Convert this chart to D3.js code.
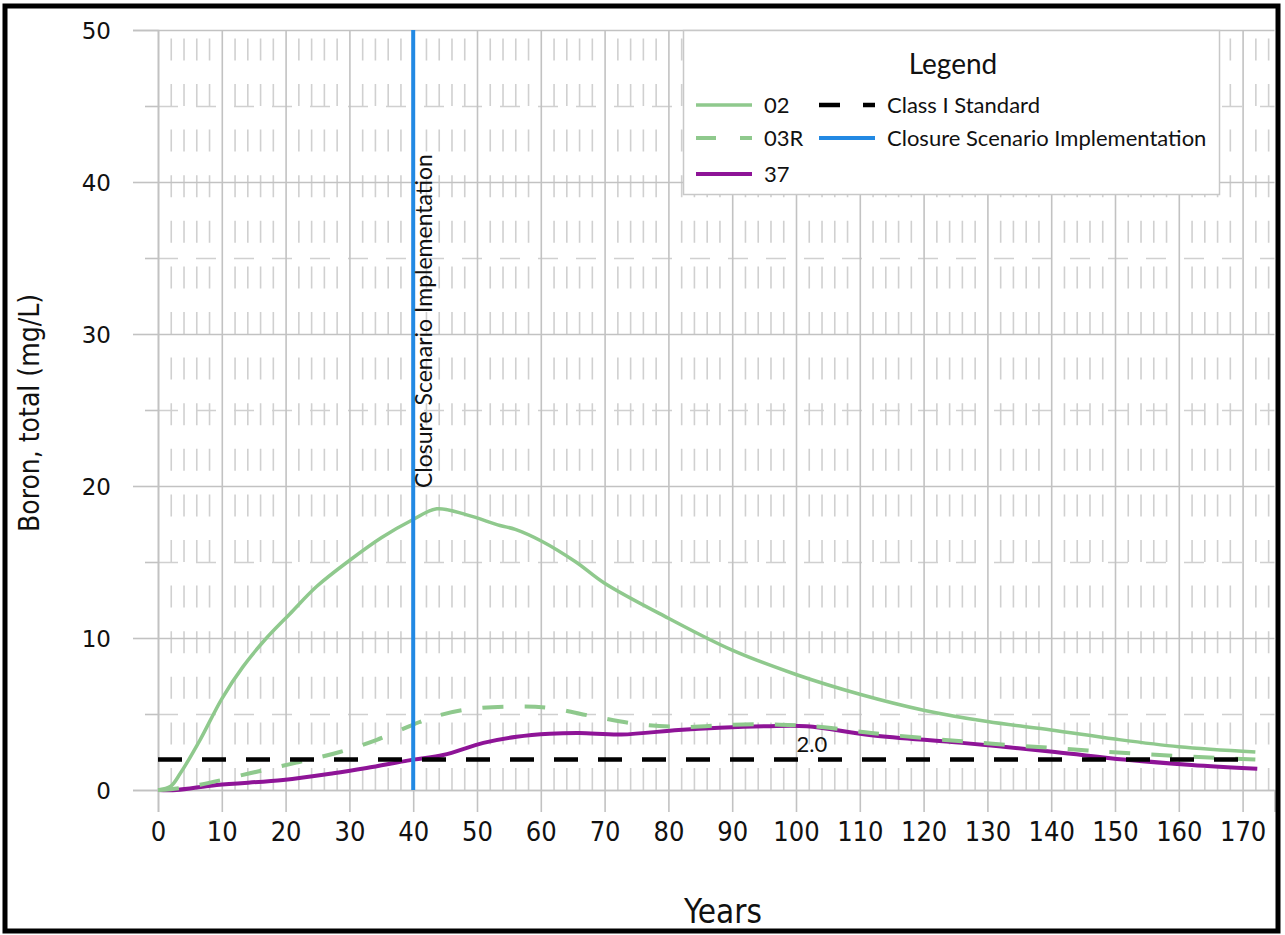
<!DOCTYPE html>
<html>
<head>
<meta charset="utf-8">
<script src="https://cdn.jsdelivr.net/npm/d3@7"></script>
<style>
  html, body { margin: 0; padding: 0; background: #fff; }
  svg { display: block; }
</style>
</head>
<body>
<svg id="chart" width="1285" height="935"></svg>
<script>
// Modelled total boron concentration at three wells over time
const years02  = [0, 2, 3.5, 6.6, 10, 13.3, 16.8, 20.7, 24.9, 30, 35, 40, 43.7, 48.4, 53.6, 56, 60, 65.5, 70, 80, 90, 100, 110, 120, 130, 140, 150, 160, 172];
const boron02  = [0, 0.25, 1.1, 3.3, 6.0, 8.1, 9.9, 11.6, 13.4, 15.1, 16.6, 17.8, 18.5, 18.1, 17.4, 17.15, 16.4, 15.0, 13.6, 11.3, 9.2, 7.6, 6.3, 5.25, 4.5, 3.95, 3.35, 2.85, 2.5];

const years03R = [0, 2, 6.6, 14.4, 21.7, 28.5, 34.3, 40, 43.1, 48.4, 56, 61.4, 68.7, 75.9, 83, 90, 97.5, 104, 111.8, 126, 140.6, 155, 172];
const boron03R = [0, 0.05, 0.35, 1.1, 1.8, 2.5, 3.3, 4.3, 4.8, 5.3, 5.5, 5.4, 4.8, 4.3, 4.15, 4.3, 4.3, 4.15, 3.75, 3.2, 2.75, 2.35, 2.0];

const years37  = [0, 2.9, 9.2, 19.6, 27.5, 32.7, 40, 44.7, 51, 56.2, 61.4, 66, 72.6, 81.6, 88, 95.3, 101.7, 111.8, 126, 140.6, 151.4, 162, 172.3];
const boron37  = [0, 0, 0.33, 0.66, 1.1, 1.45, 2.0, 2.3, 3.1, 3.5, 3.7, 3.75, 3.65, 3.95, 4.1, 4.2, 4.2, 3.6, 3.1, 2.5, 2.0, 1.65, 1.4];

const classIStandard = 2.0;      // mg/L
const closureYear = 40;          // year the closure scenario starts

const xTicks = d3.range(0, 171, 10);
const yTicks = [0, 10, 20, 30, 40, 50];
const yMinorTicks = [5, 15, 25, 35, 45];
const xMinorTicks = d3.range(2, 175, 2).filter(v => v % 10 !== 0);

const seriesNames = ["02", "03R", "37", "Class I Standard", "Closure Scenario Implementation"];

const colors = {
  s02: "#8fc98d",
  s03R: "#8fc98d",
  s37: "#8e1497",
  std: "#000000",
  closure: "#2289e3",
  gridMajor: "#c2c2c2",
  gridMinor: "#d0d0d0",
  text: "#111111"
};

const narrowFont = "'Liberation Sans Narrow', 'DejaVu Sans Condensed', sans-serif";
const legendFont = "Lato, 'Open Sans', sans-serif";

const svg = d3.select("#chart");
const x = d3.scaleLinear().domain([0, 175]).range([158, 1274.5]);
const y = d3.scaleLinear().domain([0, 50]).range([790, 30]);

const gGrid = svg.append("g");

// minor vertical grid (dashed)
gGrid.append("g")
  .attr("transform", `translate(0,${y(0)})`)
  .call(d3.axisBottom(x).tickValues(xMinorTicks).tickSize(-(y(0) - y(50))).tickFormat(""))
  .call(g => g.select(".domain").remove())
  .call(g => g.selectAll("line")
    .attr("stroke", colors.gridMinor).attr("stroke-width", 1.6)
    .attr("stroke-dasharray", "22,23.6"));

// minor horizontal grid (dashed)
gGrid.append("g")
  .attr("transform", `translate(${x(0)},0)`)
  .call(d3.axisLeft(y).tickValues(yMinorTicks).tickSize(-(x(175) - x(0))).tickFormat(""))
  .call(g => g.select(".domain").remove())
  .call(g => g.selectAll("line")
    .attr("stroke", colors.gridMinor).attr("stroke-width", 1.6)
    .attr("stroke-dasharray", "20,18"));

// major vertical grid
gGrid.append("g")
  .attr("transform", `translate(0,${y(0)})`)
  .call(d3.axisBottom(x).tickValues(xTicks).tickSize(-(y(0) - y(50))).tickFormat(""))
  .call(g => g.select(".domain").remove())
  .call(g => g.selectAll("line").attr("stroke", colors.gridMajor).attr("stroke-width", 1.6));

// major horizontal grid
gGrid.append("g")
  .attr("transform", `translate(${x(0)},0)`)
  .call(d3.axisLeft(y).tickValues(yTicks).tickSize(-(x(175) - x(0))).tickFormat(""))
  .call(g => g.select(".domain").remove())
  .call(g => g.selectAll("line").attr("stroke", colors.gridMajor).attr("stroke-width", 1.6));

// y axis: outer ticks and labels
svg.append("g")
  .attr("transform", `translate(${x(0)},0)`)
  .call(d3.axisLeft(y).tickValues(yTicks).tickSize(25).tickPadding(22))
  .call(g => g.select(".domain").attr("stroke", colors.gridMajor).attr("stroke-width", 1.6))
  .call(g => g.selectAll(".tick line").attr("stroke", colors.gridMajor).attr("stroke-width", 1.6))
  .call(g => g.selectAll(".tick text")
    .attr("font-family", "'DejaVu Sans', Verdana, sans-serif")
    .attr("font-size", 23).attr("fill", colors.text).attr("dy", "0.36em"));

svg.append("g")
  .attr("transform", `translate(${x(0)},0)`)
  .call(d3.axisLeft(y).tickValues(yMinorTicks).tickSize(13).tickFormat(""))
  .call(g => g.select(".domain").remove())
  .call(g => g.selectAll(".tick line").attr("stroke", colors.gridMajor).attr("stroke-width", 1.6));

// x axis: ticks below and labels
svg.append("g")
  .attr("transform", `translate(0,${y(0)})`)
  .call(d3.axisBottom(x).tickValues(xTicks).tickSize(22).tickPadding(10))
  .call(g => g.select(".domain").attr("stroke", colors.gridMajor).attr("stroke-width", 1.6))
  .call(g => g.selectAll(".tick line").attr("stroke", colors.gridMajor).attr("stroke-width", 1.6))
  .call(g => g.selectAll(".tick text")
    .attr("font-family", narrowFont)
    .attr("font-size", 27).attr("fill", colors.text));

// axis titles
svg.append("text")
  .attr("transform", `translate(39,${(y(0) + y(50)) / 2 + 3}) rotate(-90)`)
  .attr("text-anchor", "middle")
  .attr("font-family", narrowFont)
  .attr("font-size", 28).attr("fill", colors.text)
  .text("Boron, total (mg/L)");

svg.append("text")
  .attr("x", 723).attr("y", 923)
  .attr("text-anchor", "middle")
  .attr("font-family", narrowFont)
  .attr("font-size", 33).attr("fill", colors.text)
  .text("Years");

// data lines
const line = d3.line().x(d => x(d[0])).y(d => y(d[1])).curve(d3.curveCatmullRom.alpha(0.5));
const zip = (xs, ys) => xs.map((v, i) => [v, ys[i]]);

svg.append("path")
  .datum(zip(years37, boron37))
  .attr("d", line).attr("fill", "none")
  .attr("stroke", colors.s37).attr("stroke-width", 4);

svg.append("path")
  .datum(zip(years03R, boron03R))
  .attr("d", line).attr("fill", "none")
  .attr("stroke", colors.s03R).attr("stroke-width", 4)
  .attr("stroke-dasharray", "21,21");

svg.append("path")
  .datum(zip(years02, boron02))
  .attr("d", line).attr("fill", "none")
  .attr("stroke", colors.s02).attr("stroke-width", 3.5);

// Class I standard
svg.append("line")
  .attr("x1", x(0)).attr("x2", x(172.3))
  .attr("y1", y(classIStandard)).attr("y2", y(classIStandard))
  .attr("stroke", colors.std).attr("stroke-width", 4.5)
  .attr("stroke-dasharray", "24,20");

svg.append("text")
  .attr("x", x(102.5)).attr("y", y(classIStandard) - 8)
  .attr("text-anchor", "middle")
  .attr("font-family", legendFont)
  .attr("font-size", 22).attr("fill", colors.text)
  .text(classIStandard.toFixed(1));

// closure scenario marker
svg.append("line")
  .attr("x1", x(closureYear)).attr("x2", x(closureYear))
  .attr("y1", y(0)).attr("y2", y(50))
  .attr("stroke", colors.closure).attr("stroke-width", 4);

svg.append("text")
  .attr("transform", `translate(${x(closureYear) + 19},${y(20) + 2}) rotate(-90)`)
  .attr("text-anchor", "start")
  .attr("font-family", legendFont)
  .attr("font-size", 23).attr("fill", colors.text)
  .text(seriesNames[4]);

// legend
const lg = svg.append("g");
lg.append("rect")
  .attr("x", 683.5).attr("y", 30.5).attr("width", 536).attr("height", 164)
  .attr("fill", "#fff").attr("stroke", "#c8c8c8").attr("stroke-width", 1.5);
lg.append("text")
  .attr("x", 953).attr("y", 74).attr("text-anchor", "middle")
  .attr("font-family", legendFont)
  .attr("font-size", 28).attr("fill", colors.text)
  .text("Legend");

const legendItems = [
  { name: seriesNames[0], color: colors.s02, dash: null, w: 3.5, lx: 696, ly: 105 },
  { name: seriesNames[1], color: colors.s03R, dash: "20,24", w: 4, lx: 696, ly: 138 },
  { name: seriesNames[2], color: colors.s37, dash: null, w: 4, lx: 696, ly: 174 },
  { name: seriesNames[3], color: colors.std, dash: "21,23", w: 4.5, lx: 819, ly: 105 },
  { name: seriesNames[4], color: colors.closure, dash: null, w: 4, lx: 819, ly: 138 }
];
const li = lg.selectAll("g.item").data(legendItems).join("g")
  .attr("transform", d => `translate(${d.lx},${d.ly})`);
li.append("line")
  .attr("x1", 0).attr("x2", 56).attr("y1", 0).attr("y2", 0)
  .attr("stroke", d => d.color).attr("stroke-width", d => d.w)
  .attr("stroke-dasharray", d => d.dash);
li.append("text")
  .attr("x", 68).attr("y", 0).attr("dy", "0.35em")
  .attr("font-family", legendFont)
  .attr("font-size", 22).attr("fill", colors.text)
  .text(d => d.name);

// outer frame
svg.append("rect")
  .attr("x", 5).attr("y", 6).attr("width", 1273).attr("height", 925)
  .attr("fill", "none").attr("stroke", "#000").attr("stroke-width", 5);
</script>
</body>
</html>
